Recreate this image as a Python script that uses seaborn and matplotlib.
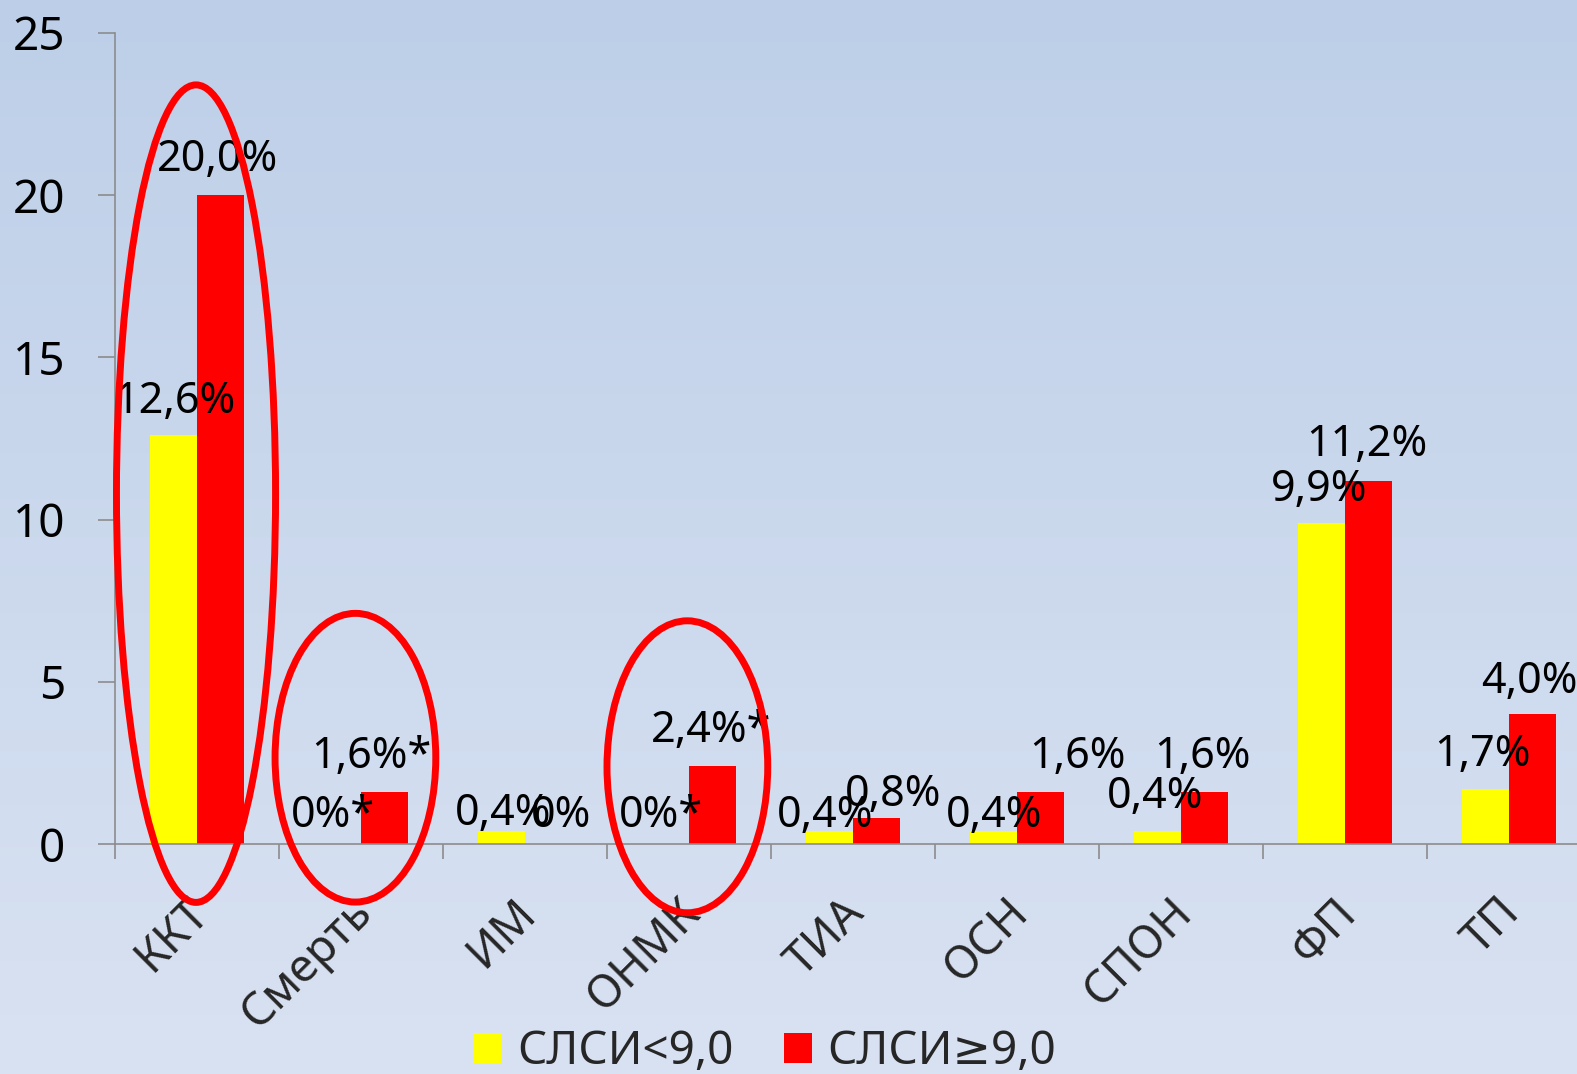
import numpy as np
import pandas as pd
import matplotlib
matplotlib.use("Agg")
import matplotlib.pyplot as plt
import matplotlib.transforms as mtransforms
from matplotlib.patches import Ellipse, Patch
from matplotlib.colors import LinearSegmentedColormap
import seaborn as sns

# --- data -------------------------------------------------------------
categories = ["ККТ", "Смерть", "ИМ", "ОНМК", "ТИА", "ОСН", "СПОН", "ФП", "ТП"]
groups = ["СЛСИ<9,0", "СЛСИ≥9,0"]
low_values = [12.6, 0.0, 0.4, 0.0, 0.4, 0.4, 0.4, 9.9, 1.7]
high_values = [20.0, 1.6, 0.0, 2.4, 0.8, 1.6, 1.6, 11.2, 4.0]
low_labels = ["12,6%", "0%*", "0,4%", "0%*", "0,4%", "0,4%", "0,4%", "9,9%", "1,7%"]
high_labels = ["20,0%", "1,6%*", "0%", "2,4%*", "0,8%", "1,6%", "1,6%", "11,2%", "4,0%"]
y_ticks = [0, 5, 10, 15, 20, 25]

df = pd.DataFrame({
    "category": categories * 2,
    "group": [groups[0]] * len(categories) + [groups[1]] * len(categories),
    "value": low_values + high_values,
})

# --- style ------------------------------------------------------------
sns.set_theme(style="white")
plt.rcParams["font.family"] = ["Noto Sans", "DejaVu Sans"]
colors = ["#ffff00", "#ff0000"]
axis_grey = "#8c8c8c"

W, H, DPI = 1577, 1074, 100
fig = plt.figure(figsize=(W / DPI, H / DPI), dpi=DPI)

# soft vertical blue gradient behind everything
bg = fig.add_axes([0, 0, 1, 1], zorder=-10)
grad = np.linspace(0, 1, 256).reshape(-1, 1)
cmap = LinearSegmentedColormap.from_list("bg", ["#bdcfe8", "#d9e2f2"])
bg.imshow(grad, aspect="auto", cmap=cmap, extent=[0, 1, 0, 1], origin="upper")
bg.set_axis_off()

ax = fig.add_axes([115 / W, (H - 844) / H, 1476 / W, 811 / H])
ax.set_facecolor("none")

sns.barplot(data=df, x="category", y="value", hue="group", palette=colors,
            width=0.577, gap=0, saturation=1, errorbar=None, legend=False,
            linewidth=0, ax=ax)

ax.set_xlim(-0.5, len(categories) - 0.5)
ax.set_ylim(0, 25)
ax.set_xlabel("")
ax.set_ylabel("")

# axes, ticks
for side in ("top", "right"):
    ax.spines[side].set_visible(False)
for side in ("left", "bottom"):
    ax.spines[side].set_color(axis_grey)
    ax.spines[side].set_linewidth(1.2)

ax.set_yticks(y_ticks)
ax.set_yticklabels([str(t) for t in y_ticks])
ax.tick_params(axis="y", length=12, width=1.2, color=axis_grey, pad=24,
               labelsize=33, labelcolor="black", left=True)

ax.set_xticks(range(len(categories)))
ax.set_xticklabels(categories, rotation=45, ha="right", va="top",
                   rotation_mode="anchor", fontsize=33)
ax.set_xticks(np.arange(-0.5, len(categories), 1), minor=True)
ax.tick_params(axis="x", which="major", length=0, pad=33)
ax.tick_params(axis="x", which="minor", length=11, width=1.2, color=axis_grey,
               bottom=True)
shift = mtransforms.ScaledTranslation(-12 / DPI, 0, fig.dpi_scale_trans)
for lbl in ax.get_xticklabels():
    lbl.set_transform(lbl.get_transform() + shift)

# value labels above bars (offsets in pixels from the bar top)
low_offsets = [(1, 38), (-4, 33), (2, 22), (-4, 33), (-4, 20), (1, 20), (-2, 39), (-2, 38), (-3, 39)]
high_offsets = [(-3, 40), (-13, 40), (12, 33), (-2, 40), (16, 28), (37, 40), (-2, 40), (-2, 41), (-3, 37)]
for container, labels, offsets in ((ax.containers[0], low_labels, low_offsets),
                                   (ax.containers[1], high_labels, high_offsets)):
    for bar, text, (dx, dy) in zip(container, labels, offsets):
        xc = bar.get_x() + bar.get_width() / 2
        ax.annotate(text, (xc, bar.get_height()), xytext=(dx, dy - 16),
                    textcoords="offset pixels", ha="center", va="baseline",
                    fontsize=31, color="black", annotation_clip=False, zorder=5)

# highlight rings around the key categories
rings = [("ККТ", -0.006, 10.8, 0.97, 25.2),
         ("Смерть", 0.966, 2.66, 0.98, 8.9),
         ("ОНМК", 2.99, 2.38, 0.98, 9.0)]
for _, cx, cy, w, h in rings:
    ax.add_patch(Ellipse((cx, cy), w, h, fill=False, edgecolor="#ff0000",
                         linewidth=5, clip_on=False, zorder=6))

# legend
handles = [Patch(facecolor=c, edgecolor="none") for c in colors]
fig.legend(handles, groups, loc="center", bbox_to_anchor=(765 / W, 22 / H),
           ncol=2, frameon=False, fontsize=33, handlelength=0.6,
           handleheight=0.65, handletextpad=0.35, columnspacing=1.1,
           borderaxespad=0, borderpad=0)

fig.savefig("out.png", dpi=DPI)
